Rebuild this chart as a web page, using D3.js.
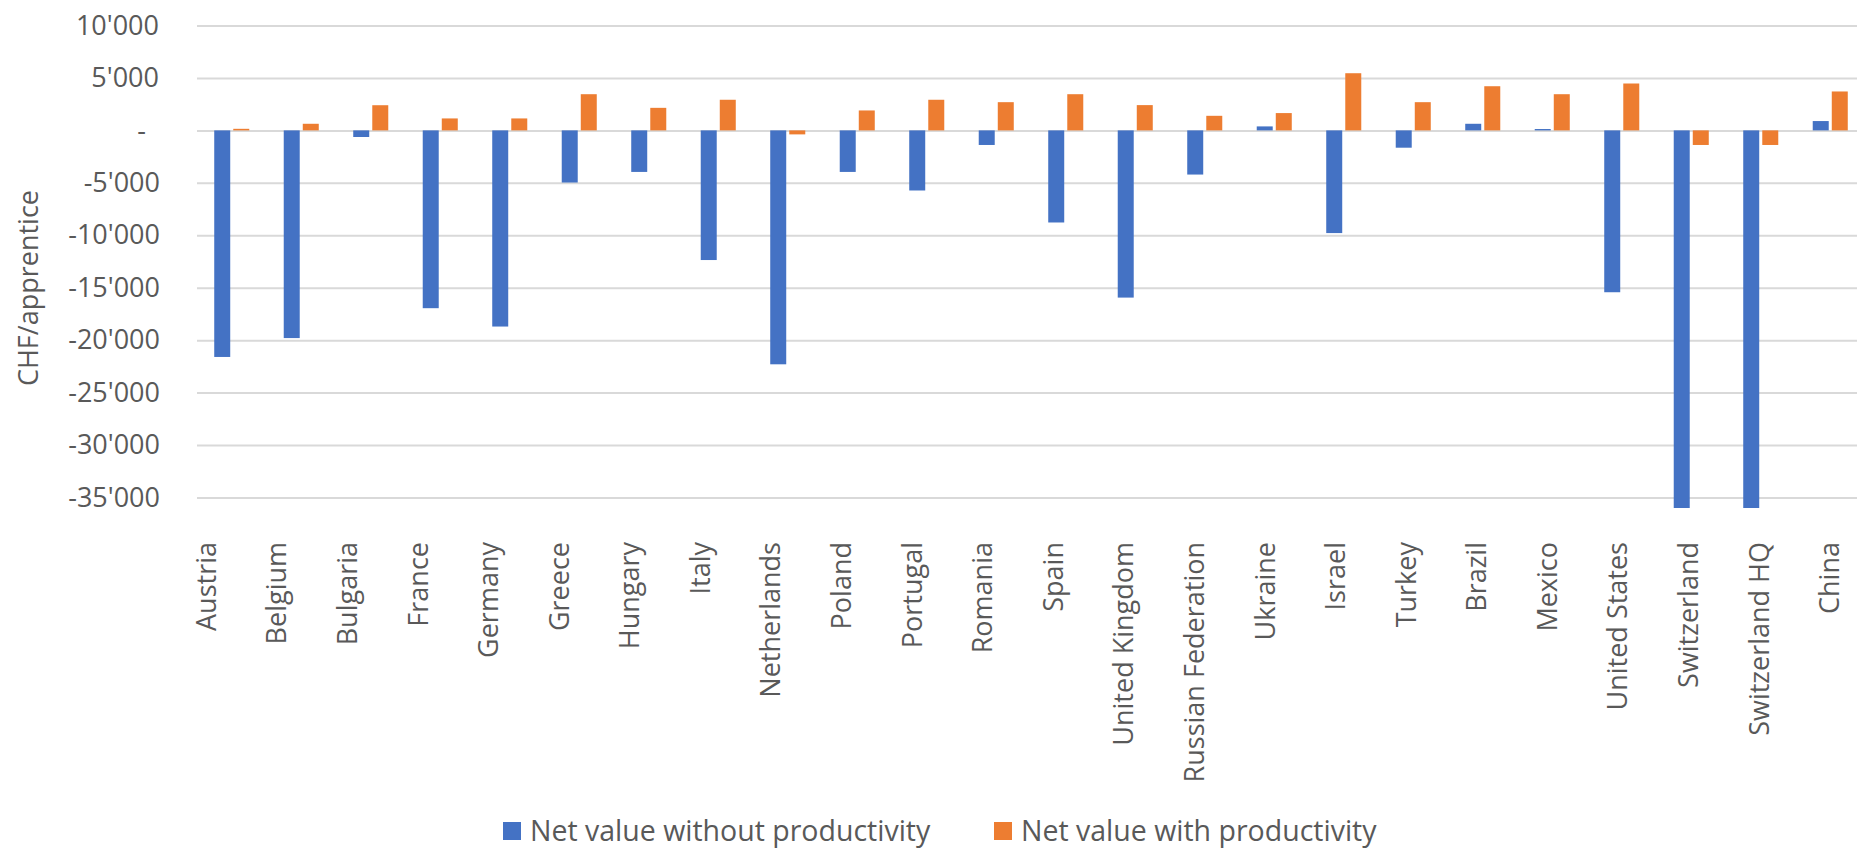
<!DOCTYPE html>
<html>
<head>
<meta charset="utf-8">
<script src="https://d3js.org/d3.v7.min.js"></script>
<style>
  body {
    margin: 0;
    background: #fff;
    font-family: "Open Sans", "Noto Sans", Arial, sans-serif;
  }
  .grid line {
    stroke: #d9d9d9;
    stroke-width: 2px;
  }
  .grid path, .yaxis path {
    display: none;
  }
  .yaxis text, .xlabels text, .legend text, .ytitle {
    fill: #595959;
    font-size: 27px;
  }
  .legend text {
    font-size: 28.5px;
  }
</style>
</head>
<body>
<div id="chart"></div>

<script>

// data (CHF per apprentice)
var countries = ["Austria", "Belgium", "Bulgaria", "France", "Germany", "Greece", "Hungary",
  "Italy", "Netherlands", "Poland", "Portugal", "Romania", "Spain", "United Kingdom",
  "Russian Federation", "Ukraine", "Israel", "Turkey", "Brazil", "Mexico", "United States",
  "Switzerland", "Switzerland HQ", "China"];

var withoutProductivity = [-21600, -19800, -630, -16950, -18700, -4970, -3960,
  -12360, -22300, -3960, -5730, -1390, -8780, -15940,
  -4210, 380, -9790, -1650, 630, 130, -15430,
  -36000, -36000, 890];

var withProductivity = [150, 630, 2400, 1140, 1140, 3450, 2150,
  2920, -380, 1900, 2920, 2690, 3450, 2410,
  1390, 1650, 5450, 2690, 4210, 3450, 4470,
  -1390, -1390, 3710];

var seriesNames = ["Net value without productivity", "Net value with productivity"];
var seriesColors = ["#4472C4", "#ED7D31"];
var yTicks = [10000, 5000, 0, -5000, -10000, -15000, -20000, -25000, -30000, -35000];

var W = 1857, H = 849;
var plot = {left: 197, right: 1865, top: 25.5, bottom: 508};

var svg = d3.select("#chart").append("svg")
    .attr("width", W)
    .attr("height", H);

var x0 = d3.scaleBand()
    .domain(countries)
    .range([plot.left, plot.right])
    .paddingInner(0.496)
    .paddingOuter(0.248);

var x1 = d3.scaleBand()
    .domain(seriesNames)
    .range([0, x0.bandwidth()])
    .paddingInner(0.16);

// category labels sit on a slightly wider spread than the bars
var xLab = d3.scaleBand()
    .domain(countries)
    .range([170, 1864]);

var y = d3.scaleLinear()
    .domain([-36000, 10000])
    .range([plot.bottom, plot.top])
    .clamp(true);

var loc = d3.formatLocale({decimal: ".", thousands: "'", grouping: [3], currency: ["", ""], minus: "-"});
var fmt = loc.format(",");

// gridlines
svg.append("g")
    .attr("class", "grid")
    .attr("transform", "translate(" + plot.left + ",0)")
    .call(d3.axisLeft(y).tickValues(yTicks).tickSize(-(W - plot.left)).tickFormat(""));

// y axis labels
var yAxis = svg.append("g")
    .attr("class", "yaxis")
    .attr("transform", "translate(" + plot.left + ",0)")
    .call(d3.axisLeft(y).tickValues(yTicks).tickSize(0).tickPadding(38)
      .tickFormat(function(d) { return d === 0 ? "-" : fmt(d); }));
yAxis.selectAll(".tick line").remove();
yAxis.selectAll(".tick text")
    .attr("dx", function(d) { return d === 0 ? -13 : (d < 0 ? 1 : 0); })
    .style("font-family", "'Open Sans', sans-serif");

// bars
var rows = countries.map(function(c, i) {
  return {country: c, values: [withoutProductivity[i], withProductivity[i]]};
});

var groups = svg.append("g")
  .selectAll("g")
  .data(rows)
  .enter()
  .append("g")
    .attr("transform", function(d) { return "translate(" + x0(d.country) + ",0)"; });

groups.selectAll("rect")
  .data(function(d) { return d.values.map(function(v, k) { return {key: seriesNames[k], value: v, k: k}; }); })
  .enter()
  .append("rect")
    .attr("x", function(d) { return x1(d.key); })
    .attr("width", x1.bandwidth())
    .attr("y", function(d) { return Math.min(y(d.value), y(0)); })
    .attr("height", function(d) { return Math.abs(y(d.value) - y(0)); })
    .attr("fill", function(d) { return seriesColors[d.k]; });

// category labels, rotated
svg.append("g")
    .attr("class", "xlabels")
  .selectAll("text")
  .data(countries)
  .enter()
  .append("text")
    .attr("transform", function(d) {
      return "translate(" + (xLab(d) + xLab.bandwidth() / 2) + ",542) rotate(-90)";
    })
    .attr("text-anchor", "end")
    .attr("dominant-baseline", "central")
    .text(function(d) { return d; });

// y title
svg.append("text")
    .attr("class", "ytitle")
    .attr("transform", "translate(27,288) rotate(-90)")
    .attr("text-anchor", "middle")
    .attr("dominant-baseline", "central")
    .text("CHF/apprentice");

// legend
var legendX = [503, 994];
var legend = svg.append("g")
    .attr("class", "legend")
  .selectAll("g")
  .data(seriesNames)
  .enter()
  .append("g")
    .attr("transform", function(d, i) { return "translate(" + legendX[i] + ",830)"; });

legend.append("rect")
    .attr("x", 0)
    .attr("y", -8)
    .attr("width", 18)
    .attr("height", 18)
    .attr("fill", function(d, i) { return seriesColors[i]; });

legend.append("text")
    .attr("x", 27)
    .attr("y", 0)
    .attr("dominant-baseline", "central")
    .text(function(d) { return d; });

</script>
</body>
</html>
